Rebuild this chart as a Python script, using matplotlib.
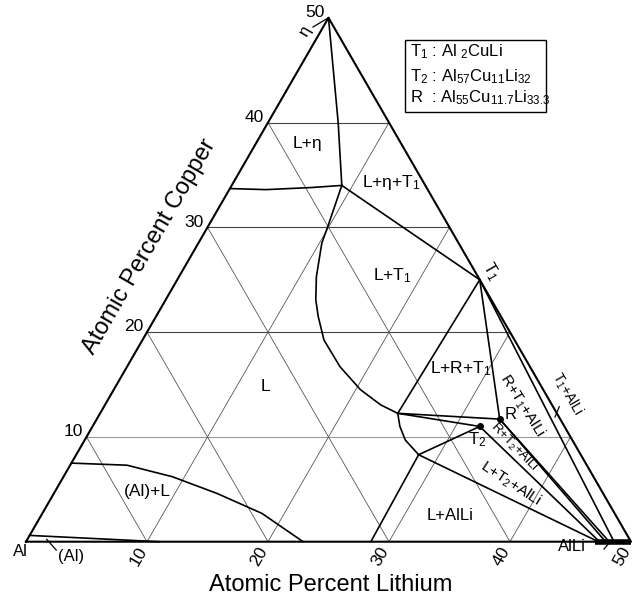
import matplotlib.pyplot as plt
import numpy as np

plt.rcParams['font.family'] = ['Liberation Sans', 'DejaVu Sans']
plt.rcParams['mathtext.fontset'] = 'custom'
plt.rcParams['mathtext.rm'] = 'Liberation Sans'
plt.rcParams['mathtext.it'] = 'Liberation Sans'

# compositions in at.% (Li, Cu); Al is the balance
T1 = (25.0, 25.0)
T2 = (32.0, 11.0)
R = (33.3, 11.7)
J = (24.6, 12.25)   # L + R + T1 corner of the liquid
K = (28.3, 8.3)     # L + T2 + AlLi corner of the liquid
ETA_J = (9.1, 34.0)

grid_ticks = [10, 20, 30, 40]
axis_ticks = [10, 20, 30, 40, 50]

eta_li = [0, 5.8, 9.1]
eta_cu = [50, 40, 34.0]

eta_liq_li = [0, 3.05, 6.7, 9.1]
eta_liq_cu = [33.7, 33.6, 33.8, 34.0]

t1_liq_li = [9.1, 9.9, 10.2, 11.35, 12.4, 13.4, 15.0, 17.6, 20.4, 22.8, 24.6]
t1_liq_cu = [34.0, 30.1, 28.5, 25.3, 23.1, 21.5, 19.25, 16.7, 14.5, 13.05, 12.25]

alli_liq_li = [24.6, 25.4, 26.5, 28.3]
alli_liq_cu = [12.25, 11.0, 9.7, 8.3]

al_liq_li = [0, 4.7, 9.0, 13.5, 18.15, 22.9]
al_liq_cu = [7.5, 7.3, 6.2, 4.6, 2.7, 0]

al_sol_li = [0, 11.0]
al_sol_cu = [0.6, 0]

alli_li = [47.0, 50.0]

tie_lines = [
    (ETA_J, T1),
    (J, T1),
    (J, R),
    (J, T2),
    (T1, R),
    (T2, K),
    (K, (28.5, 0)),
    (K, (47.3, 0)),
    (T2, (47.4, 0)),
    (R, (47.9, 0)),
    (R, (48.2, 0)),
    (T1, (48.6, 0)),
]


def tern(li, cu):
    li = np.asarray(li, dtype=float)
    cu = np.asarray(cu, dtype=float)
    return li + cu / 2, cu * np.sqrt(3) / 2


fig = plt.figure(figsize=(6.38, 6.04), dpi=100)
ax = fig.add_axes([0, 0, 1, 1])
ax.set_xlim(-2.149, 50.58)
ax.set_ylim(-5.149, 44.77)
ax.set_aspect('equal')
ax.axis('off')

# grid
for t in grid_ticks:
    x, y = tern([0, 50 - t], [t, t])
    ax.plot(x, y, color='#999999' if t == 10 else '#444444', lw=0.8, zorder=1)
    x, y = tern([t, t], [0, 50 - t])
    ax.plot(x, y, color='#555555', lw=0.6, zorder=1)
    x, y = tern([0, t], [t, 0])
    ax.plot(x, y, color='#555555', lw=0.6, zorder=1)

# triangle
x, y = tern([0, 50, 0, 0], [0, 0, 50, 0])
ax.plot(x, y, color='black', lw=1.5, zorder=3)

# phase boundaries
for li, cu in [(eta_li, eta_cu), (eta_liq_li, eta_liq_cu), (t1_liq_li, t1_liq_cu),
               (alli_liq_li, alli_liq_cu), (al_liq_li, al_liq_cu), (al_sol_li, al_sol_cu)]:
    x, y = tern(li, cu)
    ax.plot(x, y, color='black', lw=1.2, zorder=3)

for a, b in tie_lines:
    x, y = tern([a[0], b[0]], [a[1], b[1]])
    ax.plot(x, y, color='black', lw=1.2, zorder=3)

x, y = tern(alli_li, [0, 0])
ax.plot(x, y, color='black', lw=4, solid_capstyle='butt', zorder=4)

for p in (R, T2):
    x, y = tern(p[0], p[1])
    ax.plot(x, y, 'o', color='black', ms=4, zorder=5)

# axis numbers
for t in axis_ticks:
    x, y = tern(-0.55, t + 0.5)
    ax.text(x, y, str(t), ha='right', va='center', fontsize=12.5)
    x, y = tern(t, -1.43)
    ax.text(x, y, str(t), ha='center', va='center', fontsize=12.5, rotation=60)

x, y = tern(-3.9, 28.2)
ax.text(x, y, 'Atomic Percent Copper', fontsize=17, rotation=60, ha='center', va='center')
ax.text(25.2, -3.6, 'Atomic Percent Lithium', fontsize=17, ha='center', va='center')

# region labels: text, Li, Cu, rotation, size
labels = [
    ('L+η', 4.3, 38.0, 0, 12.5),
    ('L+η+T$_1$', 13.0, 34.3, 0, 12.5),
    ('L+T$_1$', 17.6, 25.4, 0, 12.5),
    ('L', 12.4, 14.8, 0, 12.5),
    ('L+R+T$_1$', 27.7, 16.5, 0, 12.5),
    ('R+T$_1$+AlLi', 34.5, 13.0, -58, 11),
    ('R+T$_2$+AlLi', 35.8, 9.0, -46, 9.5),
    ('L+T$_2$+AlLi', 37.2, 5.6, -33, 11),
    ('L+AlLi', 33.8, 2.5, 0, 12),
    ('T$_1$+AlLi', 37.7, 14.1, -60, 10),
    ('(Al)+L', 7.6, 4.8, 0, 12.5),
    ('R', 34.0, 12.1, 0, 12),
    ('T$_2$', 32.4, 9.7, 0, 12),
    ('T$_1$', 25.5, 25.8, -60, 12),
    ('η', -1.3, 48.7, 60, 12),
    ('(Al)', 4.4, -1.4, 0, 12),
    ('Al', 0.0, -0.95, 0, 12),
    ('AlLi', 45.4, -0.5, 0, 12),
]
for s, li, cu, rot, size in labels:
    x, y = tern(li, cu)
    ax.text(x, y, s, fontsize=size, ha='center', va='center', rotation=rot,
            rotation_mode='anchor')

# leader ticks
for a, b in [((1.6, 0.23), (2.9, -0.8)), ((48.12, -0.7), (48.3, 0.07)),
             ((-0.84, 49.12), (0, 50)), ((37.77, 11.9), (37.63, 12.88))]:
    x, y = tern([a[0], b[0]], [a[1], b[1]])
    ax.plot(x, y, color='black', lw=0.9)

# legend box
ax.add_patch(plt.Rectangle((0.635, 0.8146), 0.221, 0.119, transform=ax.transAxes,
                           fill=False, edgecolor='black', lw=1.0))
ax.text(0.643, 0.9144, 'T$_1$ : Al $_2$CuLi', transform=ax.transAxes, fontsize=12, va='center')
ax.text(0.643, 0.873, 'T$_2$ : Al$_{57}$Cu$_{11}$Li$_{32}$', transform=ax.transAxes, fontsize=12, va='center')
ax.text(0.643, 0.8377, 'R  : Al$_{55}$Cu$_{11.7}$Li$_{33.3}$', transform=ax.transAxes, fontsize=12, va='center')

plt.savefig('out.png', dpi=100)
